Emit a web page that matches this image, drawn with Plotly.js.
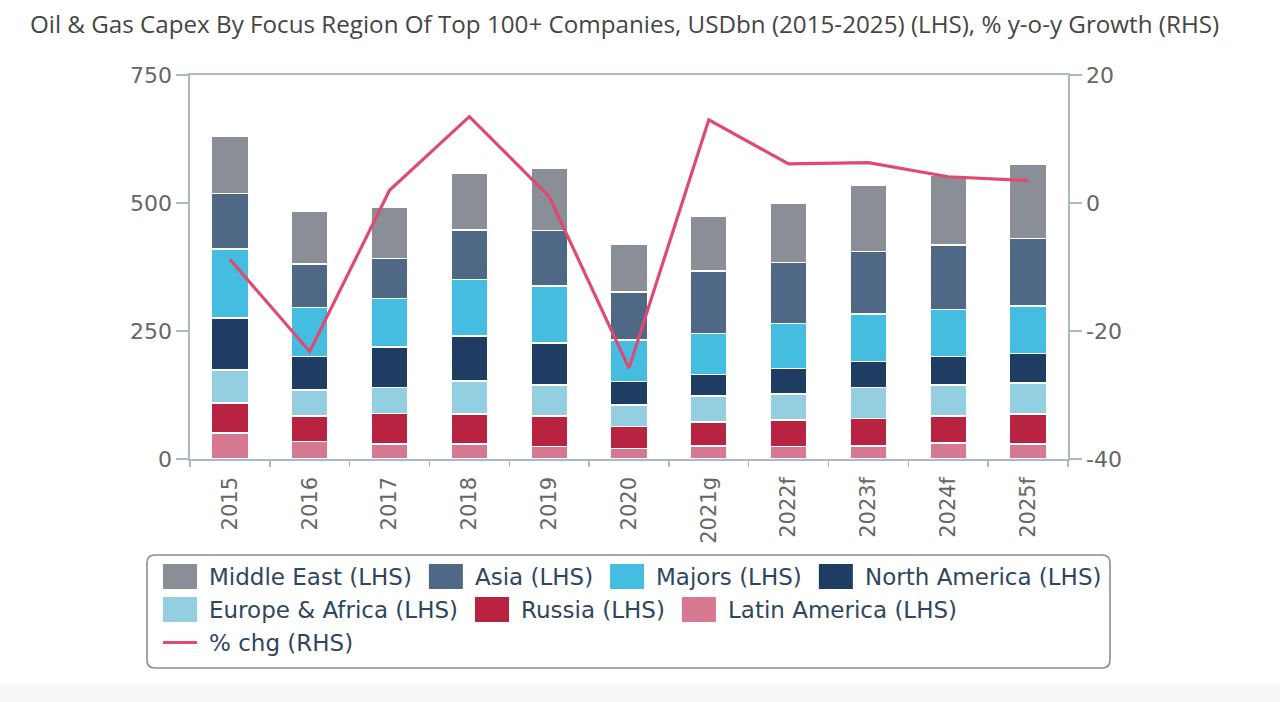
<!DOCTYPE html>
<html><head><meta charset="utf-8">
<script src="https://cdn.plot.ly/plotly-3.0.1.min.js"></script>
<style>html,body{margin:0;padding:0;background:#fff}</style>
</head><body><div id="chart" style="width:1280px;height:702px"></div>
<script>
// ---- data ----
const years = ['2015','2016','2017','2018','2019','2020','2021g','2022f','2023f','2024f','2025f'];
const middleEast   = [112,102,100,112,122, 94,108,115,129,137,145];
const asia         = [109, 85, 79, 96,108, 94,122,119,122,126,132];
const majors       = [135, 96, 94,111,111, 81, 80, 88, 93, 92, 93];
const northAmerica = [101, 65, 79, 88, 82, 46, 42, 50, 50, 55, 58];
const europeAfrica = [ 65, 51, 51, 64, 61, 42, 51, 51, 61, 61, 60];
const russia       = [ 58, 50, 60, 59, 60, 42, 47, 52, 54, 53, 59];
const latinAmerica = [ 51, 34, 29, 29, 24, 21, 25, 24, 25, 31, 29];
const pctChg       = [-8.8,-23.2,2.0,13.5,1.0,-25.8,13.0,6.1,6.3,4.1,3.5];

const leftTicks = [0, 250, 500, 750];
const leftTickText = ['0', '250', '500', '750'];
const rightTicks = [-40, -20, 0, 20];
const rightTickText = ['-40', '-20', '0', '20'];

const seriesNames = ['Middle East (LHS)','Asia (LHS)','Majors (LHS)','North America (LHS)',
                     'Europe & Africa (LHS)','Russia (LHS)','Latin America (LHS)'];
const seriesValues = [middleEast, asia, majors, northAmerica, europeAfrica, russia, latinAmerica];
const lineName = '% chg (RHS)';

// ---- styles ----
const seriesColors = ['#8a8e96','#4f6885','#45bde0','#1f3d63','#93cfe0','#b82342','#d77891'];
const lineColor = '#e04a70';
const axisColor = '#a9b9c9';
const tickFontColor = '#666666';
const legendFontColor = '#30465f';

// plot area in pixels
const W = 1280, H = 702;
const L = 190, R = 1068, T = 75, B = 459;
const pw = R - L, ph = B - T;
const px = x => (x - L) / pw;
const py = y => (B - y) / ph;

// ---- traces (stack bottom -> top) ----
const traces = [];
for (let i = seriesNames.length - 1; i >= 0; i--) {
  traces.push({
    type: 'bar', x: years, y: seriesValues[i], name: seriesNames[i],
    marker: {color: seriesColors[i], line: {color: '#ffffff', width: 1.5}},
    showlegend: false, hoverinfo: 'x+y+name'
  });
}
traces.push({
  type: 'scatter', mode: 'lines', x: years, y: pctChg, name: lineName, yaxis: 'y2',
  line: {color: lineColor, width: 3.2}, showlegend: false
});

// ---- manual legend (flow layout from names) ----
const ctx = document.createElement('canvas').getContext('2d');
const legendFontSize = 23;
ctx.font = legendFontSize + 'px "DejaVu Sans"';
const shapes = [], annotations = [];
// bottom strip
shapes.push({type:'rect', xref:'paper', yref:'paper', layer:'below',
  x0: px(0), x1: px(W), y0: py(H), y1: py(684), line:{width:0}, fillcolor:'#f8f8f8'});
// legend box with rounded corners
const bx0 = 147, bx1 = 1110, by0 = 555, by1 = 668, rr = 8;
const pth = `M ${px(bx0+rr)} ${py(by0)} L ${px(bx1-rr)} ${py(by0)} Q ${px(bx1)} ${py(by0)} ${px(bx1)} ${py(by0+rr)} ` +
  `L ${px(bx1)} ${py(by1-rr)} Q ${px(bx1)} ${py(by1)} ${px(bx1-rr)} ${py(by1)} ` +
  `L ${px(bx0+rr)} ${py(by1)} Q ${px(bx0)} ${py(by1)} ${px(bx0)} ${py(by1-rr)} ` +
  `L ${px(bx0)} ${py(by0+rr)} Q ${px(bx0)} ${py(by0)} ${px(bx0+rr)} ${py(by0)} Z`;
shapes.push({type:'path', xref:'paper', yref:'paper', path: pth,
  line:{color:'#8c8c8c', width:1.6}, fillcolor:'#ffffff', layer:'below'});

const entries = seriesNames.map((n, i) => ({name: n, color: seriesColors[i], kind: 'bar'}))
  .concat([{name: lineName, color: lineColor, kind: 'line'}]);
const startX = 163, maxX = 1106, rowY0 = 576.5, rowStep = 33, swW = 34, swH = 25, textOff = 46, itemGap = 17;
let cx = startX, row = 0;
entries.forEach(e => {
  const tw = ctx.measureText(e.name).width;
  const w = textOff + tw;
  if (cx + w > maxX) { row++; cx = startX; }
  const cy = rowY0 + row * rowStep;
  if (e.kind === 'bar') {
    shapes.push({type:'rect', xref:'paper', yref:'paper', x0: px(cx), x1: px(cx+swW),
      y0: py(cy + swH/2), y1: py(cy - swH/2), fillcolor: e.color, line:{width:0}});
  } else {
    shapes.push({type:'line', xref:'paper', yref:'paper', x0: px(cx), x1: px(cx+swW),
      y0: py(cy), y1: py(cy), line:{color: e.color, width: 3.2}});
  }
  annotations.push({xref:'paper', yref:'paper', x: px(cx + textOff - 2), y: py(cy),
    xanchor:'left', yanchor:'middle', showarrow:false, text: e.name,
    font:{family:'DejaVu Sans', size: legendFontSize, color: legendFontColor}});
  cx += w + itemGap;
});

const layout = {
  width: W, height: H,
  margin: {l: L, r: W - R, t: T, b: H - B, pad: 0},
  paper_bgcolor: '#ffffff', plot_bgcolor: '#ffffff',
  barmode: 'stack', bargap: 0.54,
  showlegend: false,
  title: {text: 'Oil & Gas Capex By Focus Region Of Top 100+ Companies, USDbn (2015-2025) (LHS), % y-o-y Growth (RHS)',
    xref: 'container', yref: 'container', x: 30 / W, xanchor: 'left', y: 1 - 25 / H, yanchor: 'middle',
    font: {family: 'Open Sans', size: 24.2, color: '#454545'}},
  xaxis: {type: 'category', showline: true, linecolor: axisColor, linewidth: 1.6, mirror: true,
    ticks: 'outside', tickson: 'boundaries', ticklen: 6, tickcolor: axisColor, tickwidth: 1.4,
    tickangle: -90, showgrid: false, zeroline: false, ticklabelstandoff: 8,
    tickfont: {family: 'DejaVu Sans', size: 21, color: tickFontColor}},
  yaxis: {range: [0, 750], tickvals: leftTicks, ticktext: leftTickText, showline: true, linecolor: axisColor, linewidth: 1.6,
    ticks: 'outside', ticklen: 12, tickcolor: axisColor, tickwidth: 1.4, showgrid: false, zeroline: false,
    tickfont: {family: 'DejaVu Sans', size: 22, color: tickFontColor}},
  yaxis2: {range: [-40, 20], tickvals: rightTicks, ticktext: rightTickText, overlaying: 'y', side: 'right',
    showline: true, linecolor: axisColor, linewidth: 1.6,
    ticks: 'outside', ticklen: 12, tickcolor: axisColor, tickwidth: 1.4, showgrid: false, zeroline: false,
    tickfont: {family: 'DejaVu Sans', size: 22, color: tickFontColor}},
  shapes: shapes, annotations: annotations
};

Plotly.newPlot('chart', traces, layout, {displayModeBar: false, staticPlot: true});
</script></body></html>
